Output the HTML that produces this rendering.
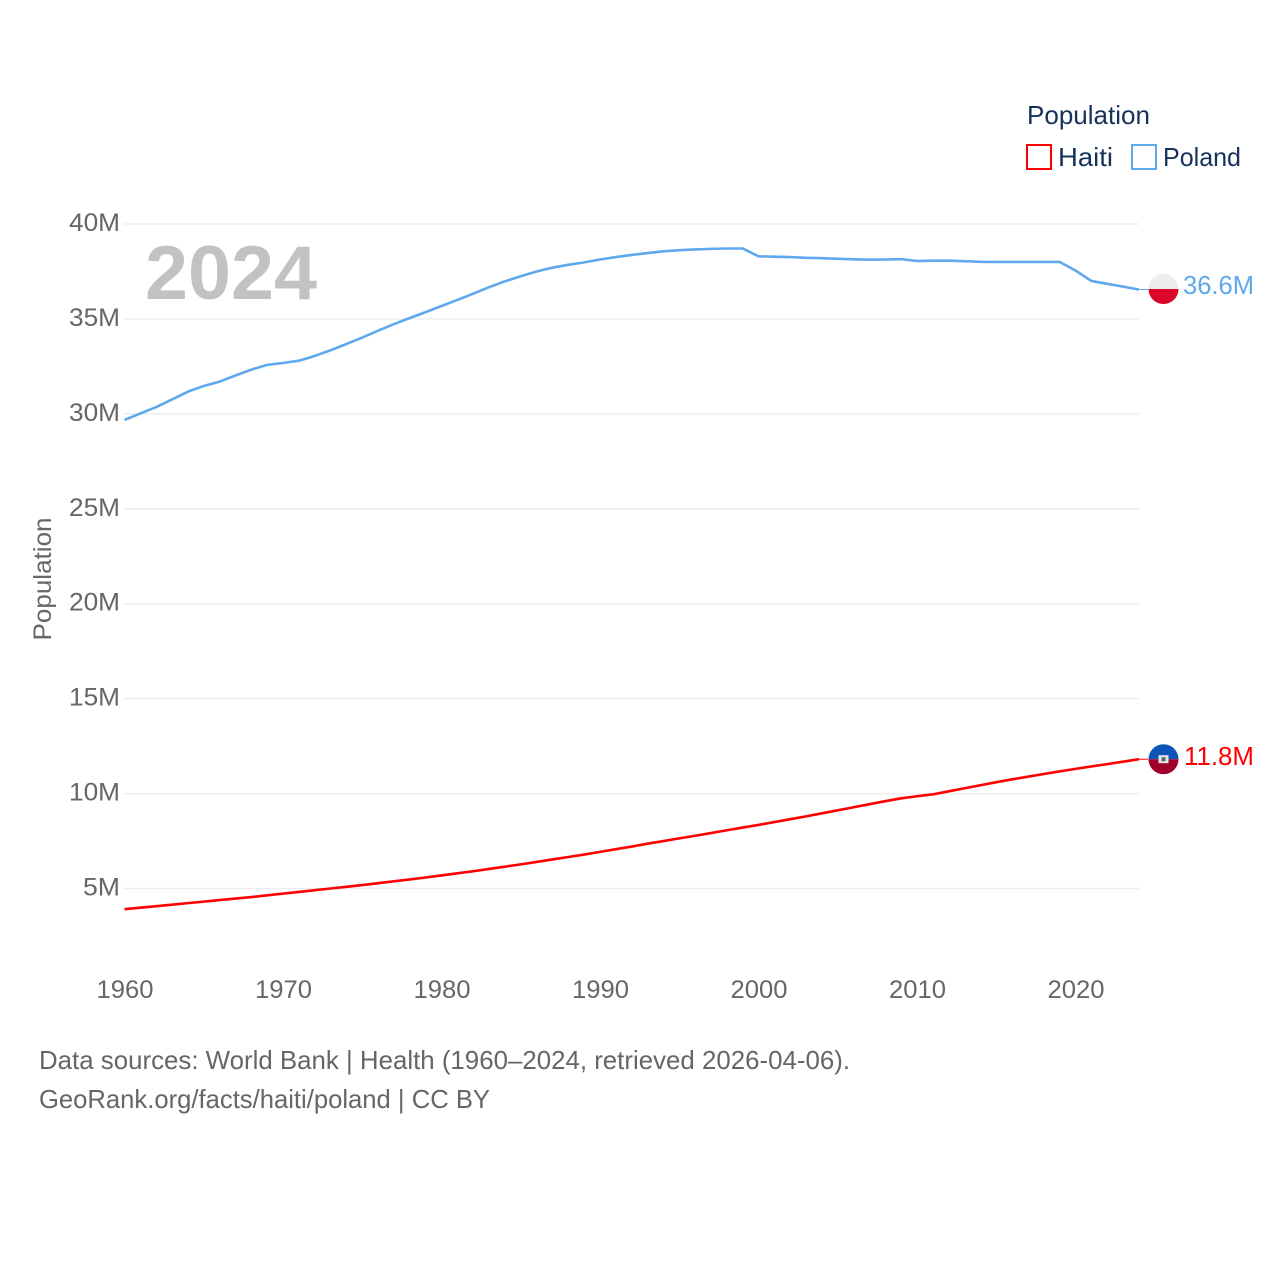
<!DOCTYPE html>
<html>
<head>
<meta charset="utf-8">
<title>Population: Haiti and Poland</title>
<style>
html,body{margin:0;padding:0;background:#fff;width:1280px;height:1280px;overflow:hidden}
svg{display:block}
text{font-family:"Liberation Sans",sans-serif}
</style>
</head>
<body>
<svg id="chart" width="1280" height="1280" viewBox="0 0 1280 1280">
  <rect x="0" y="0" width="1280" height="1280" fill="#ffffff"/>
  <g id="grid"></g>
  <g id="yticks"></g>
  <g id="xticks"></g>
  <text x="145" y="299" font-size="76" font-weight="bold" fill="#c2c2c2" textLength="172" lengthAdjust="spacingAndGlyphs">2024</text>
  <text transform="translate(51,579) rotate(-90)" text-anchor="middle" font-size="25" fill="#666666" textLength="123" lengthAdjust="spacingAndGlyphs">Population</text>
  <g id="series"></g>

  <g>
    <text x="1027" y="124" font-size="26" fill="#16325a" textLength="123" lengthAdjust="spacingAndGlyphs">Population</text>
    <g>
      <rect x="1027" y="145" width="24" height="24" fill="#ffffff" stroke="#ff0000" stroke-width="2"/>
      <text x="1058" y="166" font-size="26" fill="#16325a" textLength="55" lengthAdjust="spacingAndGlyphs">Haiti</text>
    </g>
    <g>
      <rect x="1132" y="145" width="24" height="24" fill="#ffffff" stroke="#5ea8ee" stroke-width="2"/>
      <text x="1163" y="166" font-size="26" fill="#16325a" textLength="78" lengthAdjust="spacingAndGlyphs">Poland</text>
    </g>
  </g>

  <defs>
    <clipPath id="clip-flag-pl"><circle id="clip-pl" r="15"/></clipPath>
    <clipPath id="clip-flag-ht"><circle id="clip-ht" r="15"/></clipPath>
  </defs>
  <g id="end-poland"></g>
  <g id="end-haiti"></g>

  <g>
    <text x="39" y="1069" font-size="26" fill="#666666" textLength="811" lengthAdjust="spacingAndGlyphs">Data sources: World Bank | Health (1960–2024, retrieved 2026-04-06).</text>
    <text x="39" y="1108" font-size="26" fill="#666666" textLength="451" lengthAdjust="spacingAndGlyphs">GeoRank.org/facts/haiti/poland | CC BY</text>
  </g>
</svg>
<script>
var years = [1960,1961,1962,1963,1964,1965,1966,1967,1968,1969,1970,1971,1972,1973,1974,1975,1976,1977,1978,1979,1980,1981,1982,1983,1984,1985,1986,1987,1988,1989,1990,1991,1992,1993,1994,1995,1996,1997,1998,1999,2000,2001,2002,2003,2004,2005,2006,2007,2008,2009,2010,2011,2012,2013,2014,2015,2016,2017,2018,2019,2020,2021,2022,2023,2024];
var polandValues = [29.68,30.02,30.36,30.76,31.17,31.47,31.7,32.02,32.33,32.58,32.68,32.8,33.05,33.35,33.68,34.02,34.38,34.73,35.05,35.36,35.68,36.0,36.33,36.67,36.98,37.25,37.5,37.7,37.85,37.98,38.13,38.26,38.37,38.47,38.56,38.62,38.66,38.69,38.71,38.71,38.3,38.28,38.26,38.22,38.2,38.17,38.14,38.12,38.13,38.15,38.05,38.07,38.07,38.04,38.01,38.0,38.0,38.0,38.0,38.0,37.55,37.0,36.85,36.7,36.55];
var haitiValues = [3.91,3.99,4.07,4.15,4.23,4.31,4.39,4.47,4.55,4.64,4.73,4.82,4.91,5.0,5.09,5.18,5.28,5.38,5.48,5.58,5.69,5.8,5.91,6.03,6.15,6.27,6.4,6.53,6.66,6.79,6.93,7.07,7.21,7.36,7.5,7.64,7.78,7.92,8.07,8.21,8.35,8.5,8.65,8.8,8.96,9.12,9.28,9.44,9.6,9.75,9.86,9.96,10.12,10.28,10.44,10.6,10.75,10.89,11.03,11.17,11.3,11.43,11.55,11.68,11.81];
var yTickValues = [5,10,15,20,25,30,35,40];
var yTickLabels = ["5M","10M","15M","20M","25M","30M","35M","40M"];
var xTickValues = [1960,1970,1980,1990,2000,2010,2020];
var xTickLabels = ["1960","1970","1980","1990","2000","2010","2020"];
var endLabels = ["36.6M","11.8M"];

var NS = 'http://www.w3.org/2000/svg';
function xScale(year){ return 124.5 + (year - 1960) * 15.85; }
function yScale(v){ return 224 + (40 - v) * 18.986; }
function mk(tag, attrs, parent, txt){
  var el = document.createElementNS(NS, tag);
  for (var k in attrs) el.setAttribute(k, attrs[k]);
  if (txt !== undefined) el.textContent = txt;
  parent.appendChild(el);
  return el;
}

var grid = document.getElementById('grid');
var yG = document.getElementById('yticks');
yTickValues.forEach(function(v, i){
  var line = mk('line', {x1:124, x2:1139, y1:yScale(v), y2:yScale(v), stroke:'#eeeeee', 'stroke-width':1.5}, grid);
  
  
  var w = yTickLabels[i].length === 2 ? 37 : 51;
  var t = mk('text', {x:120, y:yScale(v)+7, 'text-anchor':'end', 'font-size':25, fill:'#666666', textLength:w, lengthAdjust:'spacingAndGlyphs'}, yG, yTickLabels[i]);
  
  
});

var xG = document.getElementById('xticks');
xTickValues.forEach(function(v, i){
  var t = mk('text', {x:xScale(v)+0.5, y:998, 'text-anchor':'middle', 'font-size':25, fill:'#666666', textLength:57, lengthAdjust:'spacingAndGlyphs'}, xG, xTickLabels[i]);
  
  
});

function pathFor(vals){
  var d = '';
  vals.forEach(function(v, i){
    d += (i ? 'L' : 'M') + xScale(years[i]).toFixed(2) + ' ' + yScale(v).toFixed(2);
  });
  return d;
}
var seriesG = document.getElementById('series');
var pLine = mk('path', {d:pathFor(polandValues), fill:'none', stroke:'#5ea8ee', 'stroke-width':2.6, 'stroke-linejoin':'round'}, seriesG);


var hLine = mk('path', {d:pathFor(haitiValues), fill:'none', stroke:'#ff0000', 'stroke-width':2.6, 'stroke-linejoin':'round'}, seriesG);



var fx = 1163.5;
// Poland end marker
var pY = yScale(polandValues[polandValues.length - 1]);
var pG = document.getElementById('end-poland');
var pLead = mk('line', {x1:xScale(2024), x2:1148, y1:pY, y2:pY, stroke:'#5ea8ee', 'stroke-width':1}, pG);


var pc = pY - 0.5;
var cp = document.getElementById('clip-pl'); cp.setAttribute('cx', fx); cp.setAttribute('cy', pc);
var pTop = mk('rect', {x:fx-15, y:pc-15, width:30, height:15, fill:'#eeeeee', 'clip-path':'url(#clip-flag-pl)'}, pG);


var pBot = mk('rect', {x:fx-15, y:pc, width:30, height:15, fill:'#dc052a', 'clip-path':'url(#clip-flag-pl)'}, pG);


var pT = mk('text', {x:1183, y:pc+5, 'font-size':26, fill:'#5ea8ee', textLength:71, lengthAdjust:'spacingAndGlyphs'}, pG, endLabels[0]);



// Haiti end marker
var hY = yScale(haitiValues[haitiValues.length - 1]);
var hG = document.getElementById('end-haiti');
var hLead = mk('line', {x1:xScale(2024), x2:1148, y1:hY, y2:hY, stroke:'#ff0000', 'stroke-width':1}, hG);


var hc = hY;
var ch = document.getElementById('clip-ht'); ch.setAttribute('cx', fx); ch.setAttribute('cy', hc);
var hTop = mk('rect', {x:fx-15, y:hc-15, width:30, height:15, fill:'#0a55b5', 'clip-path':'url(#clip-flag-ht)'}, hG);


var hBot = mk('rect', {x:fx-15, y:hc, width:30, height:15, fill:'#a0002a', 'clip-path':'url(#clip-flag-ht)'}, hG);


var hCoat = mk('rect', {x:fx-5, y:hc-4, width:10, height:8, fill:'#e8e8e8'}, hG);


var hArm = mk('rect', {x:fx-2, y:hc-2, width:4, height:4, fill:'#5a6a6a'}, hG);


var hT = mk('text', {x:1184, y:hc+6, 'font-size':26, fill:'#ff0000', textLength:70, lengthAdjust:'spacingAndGlyphs'}, hG, endLabels[1]);


</script>
</body>
</html>
